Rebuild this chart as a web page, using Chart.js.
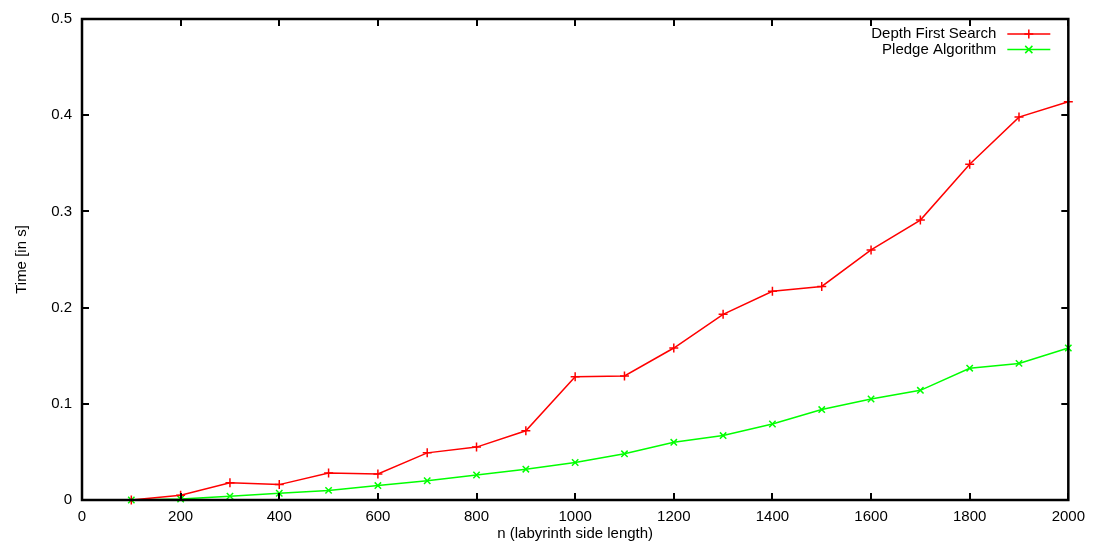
<!DOCTYPE html>
<html>
<head>
<meta charset="utf-8">
<title>Labyrinth solving time</title>
<script src="https://cdn.jsdelivr.net/npm/chart.js@4/dist/chart.umd.min.js"></script>
<style>
  html, body { margin: 0; padding: 0; background: #fff; }
  #wrap { width: 1093px; height: 550px; }
</style>
</head>
<body>
<div id="wrap"><canvas id="chart" width="1093" height="550"></canvas></div>
<script>
// side length n of the labyrinth
const sizes = [100, 200, 300, 400, 500, 600, 700, 800, 900, 1000,
               1100, 1200, 1300, 1400, 1500, 1600, 1700, 1800, 1900, 2000];

// run time in seconds
const dfsTimes = [0.000, 0.005, 0.018, 0.016, 0.028, 0.027, 0.049, 0.055, 0.072, 0.128,
                  0.129, 0.158, 0.193, 0.217, 0.222, 0.260, 0.291, 0.349, 0.398, 0.414];
const pledgeTimes = [0.000, 0.001, 0.004, 0.007, 0.010, 0.015, 0.020, 0.026, 0.032, 0.039,
                     0.048, 0.060, 0.067, 0.079, 0.094, 0.105, 0.114, 0.137, 0.142, 0.158];

const seriesNames = ["Depth First Search", "Pledge Algorithm"];

const FONT = "Liberation Sans, Arial, sans-serif";
const FONT_SIZE = 15;

const toPoints = ys => sizes.map((x, i) => ({ x, y: ys[i] }));

// gnuplot-like frame: box all round, ticks pointing inwards on all four sides
const frame = {
  id: "frame",
  afterDatasetsDraw(chart) {
    const { ctx, chartArea: a, scales } = chart;
    ctx.save();
    ctx.strokeStyle = "#000";
    ctx.lineWidth = 2;
    const len = 7;
    ctx.beginPath();
    scales.x.ticks.forEach(t => {
      const px = Math.round(scales.x.getPixelForValue(t.value));
      ctx.moveTo(px, a.bottom); ctx.lineTo(px, a.bottom - len);
      ctx.moveTo(px, a.top); ctx.lineTo(px, a.top + len);
    });
    scales.y.ticks.forEach(t => {
      const py = Math.round(scales.y.getPixelForValue(t.value));
      ctx.moveTo(a.left, py); ctx.lineTo(a.left + len, py);
      ctx.moveTo(a.right, py); ctx.lineTo(a.right - len, py);
    });
    ctx.stroke();
    ctx.lineWidth = 2.5;
    ctx.strokeRect(a.left, a.top, a.right - a.left, a.bottom - a.top);
    ctx.restore();
  }
};

function drawMarker(ctx, style, x, y, r) {
  ctx.beginPath();
  if (style === "cross") {
    ctx.moveTo(x - r, y); ctx.lineTo(x + r, y);
    ctx.moveTo(x, y - r); ctx.lineTo(x, y + r);
  } else {
    const d = r * 0.8;
    ctx.moveTo(x - d, y - d); ctx.lineTo(x + d, y + d);
    ctx.moveTo(x - d, y + d); ctx.lineTo(x + d, y - d);
  }
  ctx.stroke();
}

// key in the top right corner: label, then line sample with its marker
const key = {
  id: "key",
  afterDraw(chart) {
    const { ctx, chartArea: a } = chart;
    const textRight = a.right - 72;
    const x0 = a.right - 61, x1 = a.right - 18;
    ctx.save();
    ctx.font = FONT_SIZE + "px " + FONT;
    ctx.textAlign = "right";
    ctx.textBaseline = "middle";
    chart.data.datasets.forEach((ds, i) => {
      const y = a.top + 15 + i * 15.5;
      ctx.fillStyle = "#000";
      ctx.fillText(ds.label, textRight, y);
      ctx.strokeStyle = ds.borderColor;
      ctx.lineWidth = 1.5;
      ctx.beginPath();
      ctx.moveTo(x0, y); ctx.lineTo(x1, y);
      ctx.stroke();
      drawMarker(ctx, ds.pointStyle, (x0 + x1) / 2, y, 4.5);
    });
    ctx.restore();
  }
};

new Chart(document.getElementById("chart"), {
  type: "line",
  data: {
    datasets: [
      {
        label: seriesNames[0],
        data: toPoints(dfsTimes),
        borderColor: "#ff0000",
        backgroundColor: "#ff0000",
        borderWidth: 1.5,
        pointStyle: "cross",
        pointRadius: 4.5,
        pointBorderWidth: 1.5,
        tension: 0,
        clip: 8
      },
      {
        label: seriesNames[1],
        data: toPoints(pledgeTimes),
        borderColor: "#00ff00",
        backgroundColor: "#00ff00",
        borderWidth: 1.5,
        pointStyle: "crossRot",
        pointRadius: 4.5,
        pointBorderWidth: 1.5,
        tension: 0,
        clip: 8
      }
    ]
  },
  options: {
    responsive: false,
    animation: false,
    events: [],
    layout: { padding: { top: 18, right: 23, left: 0, bottom: 0 } },
    plugins: {
      legend: { display: false },
      tooltip: { enabled: false }
    },
    scales: {
      x: {
        type: "linear",
        min: 0,
        max: 2000,
        grid: { display: false, drawTicks: false },
        border: { display: false },
        ticks: {
          stepSize: 200,
          maxRotation: 0,
          padding: 8,
          color: "#000",
          font: { family: FONT, size: FONT_SIZE },
          callback: v => String(v)
        },
        title: {
          display: true,
          text: "n (labyrinth side length)",
          color: "#000",
          font: { family: FONT, size: FONT_SIZE },
          padding: { top: 0, bottom: 7 }
        },
        afterFit(scale) { scale.height = 50; }
      },
      y: {
        min: 0,
        max: 0.5,
        grid: { display: false, drawTicks: false },
        border: { display: false },
        ticks: {
          stepSize: 0.1,
          padding: 10,
          color: "#000",
          font: { family: FONT, size: FONT_SIZE },
          callback: v => (v === 0 ? "0" : Number(v.toFixed(1)).toString())
        },
        title: {
          display: true,
          text: "Time [in s]",
          color: "#000",
          font: { family: FONT, size: FONT_SIZE },
          padding: { top: 13, bottom: 0 }
        },
        afterFit(scale) { scale.width = 82; }
      }
    }
  },
  plugins: [frame, key]
});
</script>
</body>
</html>
